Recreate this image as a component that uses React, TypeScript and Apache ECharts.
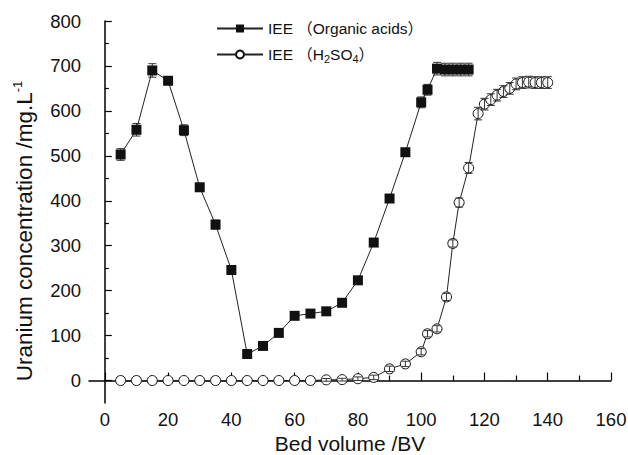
import React, { useEffect, useRef } from "react";
import * as echarts from "echarts";

const orgBV = [5, 10, 15, 20, 25, 30, 35, 40, 45, 50, 55, 60, 65, 70, 75, 80, 85, 90, 95, 100, 102, 105, 107.5, 110, 112.5, 115];
const orgU = [503, 558, 690, 667, 557, 430, 347, 246, 59, 77, 106, 144, 149, 154, 173, 223, 307, 405, 508, 619, 647, 694, 692, 692, 692, 692];
const orgErr = [13, 14, 15, 8, 12, 8, 10, 6, 4, 4, 4, 4, 4, 4, 4, 5, 6, 6, 8, 12, 12, 14, 14, 14, 14, 14];

const h2BV = [5, 10, 15, 20, 25, 30, 35, 40, 45, 50, 55, 60, 65, 70, 75, 80, 85, 90, 95, 100, 102, 105, 108, 110, 112, 115, 118, 120, 122, 124, 126, 128, 130, 132, 134, 136, 138, 140];
const h2U = [0, 0, 0, 0, 0, 0, 0, 0, 0, 0, 0, 0, 0, 1.5, 2, 4, 7, 26, 37, 64, 104, 115, 186, 305, 396, 473, 594, 615, 625, 635, 643, 650, 660, 663, 664, 663, 663, 663];
const h2Err = [0, 0, 0, 0, 0, 0, 0, 0, 0, 0, 0, 0, 0, 3, 3, 4, 5, 6, 6, 7, 7, 7, 8, 8, 10, 12, 14, 13, 13, 13, 13, 13, 13, 13, 13, 13, 13, 13];

const seriesNames = ["IEE （Organic acids）", "IEE （H2SO4）"];
const yTitle = "{a|Uranium concentration /mg.L}{b|-1}";

const xMajor = [0, 20, 40, 60, 80, 100, 120, 140, 160];
const xMinor = [10, 30, 50, 70, 90, 110, 130, 150];
const yMajor = [0, 100, 200, 300, 400, 500, 600, 700, 800];
const yMinor = [50, 150, 250, 350, 450, 550, 650, 750];

const FONT = "'Liberation Sans', Arial, 'Noto Sans CJK SC', sans-serif";
const INK = "#111";

function errRender(params: any, api: any) {
  const x = api.value(0);
  const y = api.value(1);
  const e = api.value(2);
  const top = api.coord([x, y + e]);
  const bot = api.coord([x, y - e]);
  const hw = 4;
  const style = { stroke: "#333", lineWidth: 1 };
  return {
    type: "group",
    children: [
      { type: "line", shape: { x1: top[0], y1: top[1], x2: bot[0], y2: bot[1] }, style },
      { type: "line", shape: { x1: top[0] - hw, y1: top[1], x2: top[0] + hw, y2: top[1] }, style },
      { type: "line", shape: { x1: bot[0] - hw, y1: bot[1], x2: bot[0] + hw, y2: bot[1] }, style },
    ],
  };
}

export default function App() {
  const ref = useRef<HTMLDivElement>(null);
  useEffect(() => {
    document.body.style.margin = "0";
    const chart = echarts.init(ref.current!, null, { renderer: "svg" });
    const orgData = orgBV.map((x, i) => [x, orgU[i]]);
    const h2Data = h2BV.map((x, i) => [x, h2U[i]]);
    const orgErrData = orgBV.map((x, i) => [x, orgU[i], orgErr[i]]).filter((d) => d[2] > 0);
    const h2ErrData = h2BV.map((x, i) => [x, h2U[i], h2Err[i]]).filter((d) => d[2] > 0);

    const axisLine = { show: true, lineStyle: { color: "#000", width: 1.5 } };
    chart.setOption({
      animation: false,
      backgroundColor: "#fff",
      grid: { left: 89, right: 17, top: 21, bottom: 52, containLabel: false, outerBoundsMode: "none" },
      graphic: [
        {
          type: "text",
          x: 24,
          y: 231,
          rotation: Math.PI / 2,
          silent: true,
          style: {
            text: yTitle,
            align: "center",
            verticalAlign: "middle",
            fill: INK,
            font: "22.5px " + FONT,
            rich: {
              a: { fontSize: 22.5, fill: INK, fontFamily: FONT, lineHeight: 26 },
              b: { fontSize: 13, fill: INK, fontFamily: FONT, lineHeight: 13, verticalAlign: "top" },
            },
          },
        },
      ],
      legend: {
        data: seriesNames,
        orient: "vertical",
        left: 211,
        top: 14,
        itemWidth: 46,
        itemHeight: 10,
        itemGap: 7,
        textStyle: {
          fontFamily: FONT,
          fontSize: 15.5,
          color: INK,
          lineHeight: 19,
          rich: {
            n: { fontFamily: FONT, fontSize: 15.5, color: INK, lineHeight: 19 },
            s: { fontFamily: FONT, fontSize: 11, color: INK, lineHeight: 11, verticalAlign: "bottom" },
          },
        },
        formatter: (name: string) =>
          name === seriesNames[1] ? "{n|IEE （H}{s|2}{n|SO}{s|4}{n|）}" : name,
      },
      xAxis: [
        {
          type: "value",
          min: -5,
          max: 160,
          axisLine,
          axisTick: { show: true, inside: true, length: 8, customValues: xMajor, lineStyle: { color: "#000", width: 1.2 } },
          axisLabel: { customValues: xMajor, fontSize: 18.5, color: INK, fontFamily: FONT, margin: 7 },
          splitLine: { show: false },
          name: "Bed volume /BV",
          nameLocation: "middle",
          nameGap: 30,
          nameTextStyle: { fontSize: 21, lineHeight: 21, color: INK, fontFamily: FONT },
        },
        {
          type: "value",
          min: -5,
          max: 160,
          position: "bottom",
          axisLine: { show: false },
          axisTick: { show: true, inside: true, length: 5, customValues: xMinor, lineStyle: { color: "#000", width: 1.2 } },
          axisLabel: { show: false },
          splitLine: { show: false },
        },
      ],
      yAxis: [
        {
          type: "value",
          min: -50,
          max: 800,
          axisLine,
          axisTick: { show: true, inside: true, length: 7, customValues: yMajor, lineStyle: { color: "#000", width: 1.2 } },
          axisLabel: { customValues: yMajor, fontSize: 18.5, color: INK, fontFamily: FONT, margin: 8 },
          splitLine: { show: false },
        },
        {
          type: "value",
          min: -50,
          max: 800,
          position: "left",
          axisLine: { show: false },
          axisTick: { show: true, inside: true, length: 4, customValues: yMinor, lineStyle: { color: "#000", width: 1.2 } },
          axisLabel: { show: false },
          splitLine: { show: false },
        },
      ],
      series: [
        {
          type: "custom",
          name: "orgErr",
          xAxisIndex: 0,
          yAxisIndex: 0,
          renderItem: errRender,
          data: orgErrData,
          encode: { x: 0, y: 1 },
          z: 1,
          silent: true,
        },
        {
          type: "line",
          name: seriesNames[0],
          data: orgData,
          symbol: "rect",
          symbolSize: 10,
          showAllSymbol: true,
          lineStyle: { color: "#222", width: 1 },
          itemStyle: { color: "#111", borderColor: "#111", borderWidth: 0 },
          z: 2,
        },
        {
          type: "line",
          name: seriesNames[1],
          data: h2Data,
          symbol: "circle",
          symbolSize: 10,
          showAllSymbol: true,
          lineStyle: { color: "#222", width: 1 },
          itemStyle: { color: "#fff", borderColor: "#111", borderWidth: 1 },
          z: 3,
        },
        {
          type: "custom",
          name: "h2Err",
          xAxisIndex: 0,
          yAxisIndex: 0,
          renderItem: errRender,
          data: h2ErrData,
          encode: { x: 0, y: 1 },
          z: 4,
          silent: true,
        },
      ],
    });
    return () => chart.dispose();
  }, []);
  return <div ref={ref} style={{ width: 628, height: 455 }} />;
}
